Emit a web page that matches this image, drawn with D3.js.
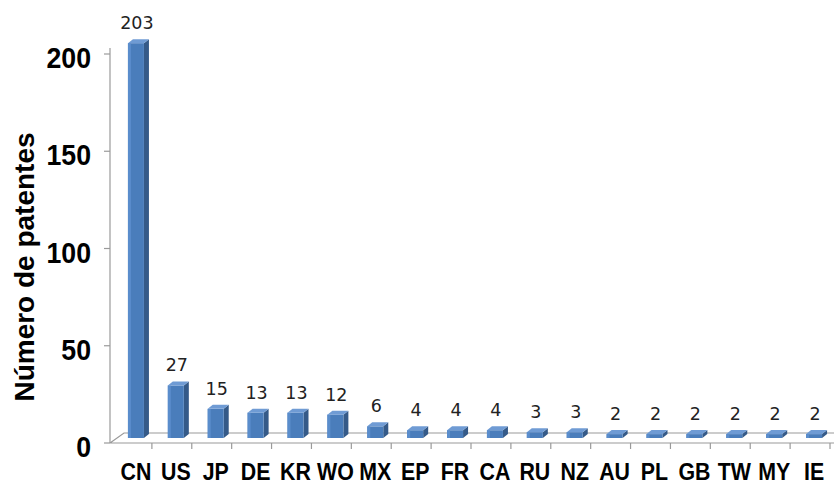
<!DOCTYPE html>
<html>
<head>
<meta charset="utf-8">
<script src="https://cdn.jsdelivr.net/npm/d3@7"></script>
<style>
    html, body { margin:0; padding:0; background:#fff; }
    svg { display:block; }
    .bold { font-family:'Liberation Sans', Arial, sans-serif; font-weight:bold; fill:#000; }
    .val { font-family:'DejaVu Sans', sans-serif; font-size:17.5px; fill:#222; }
</style>
</head>
<body>
<svg id="chart" width="834" height="485"></svg>
<script>
(function(window) {
    'use strict';

    var countries = ['CN','US','JP','DE','KR','WO','MX','EP','FR','CA','RU','NZ','AU','PL','GB','TW','MY','IE'],
        patents = [203, 27, 15, 13, 13, 12, 6, 4, 4, 4, 3, 3, 2, 2, 2, 2, 2, 2],
        yTicks = [0, 50, 100, 150, 200],
        yTitle = 'Número de patentes';

    var W = 834, H = 485,
        SQ = 0.89,          // horizontal squeeze of the source picture
        DX = 5, DY = 4,     // depth of the 3d bars
        BW = 16;            // front face width

    var svg = d3.select('#chart');

    var x = d3.scaleBand()
        .domain(countries)
        .range([116, 834]);

    // front of the floor (axis) and plane the bars stand on
    var yAxis = d3.scaleLinear().domain([0, 200]).range([443, 54]),
        yBar = d3.scaleLinear().domain([0, 200]).range([438, 49]);

    /******************************************************************
        floor and axes
     ******************************************************************/
    var grid = svg.append('g')
        .style('stroke', '#9a9a9a')
        .style('fill', 'none')
        .style('stroke-width', 1.2);

    grid.append('path')
        .attr('d', 'M110 443 L834 443 M110 443 L124 433 L834 433');

    grid.append('line')
        .attr('x1', 110).attr('x2', 110)
        .attr('y1', 48).attr('y2', 443);

    grid.selectAll('.ytick')
        .data(yTicks).enter()
            .append('line')
                .attr('x1', 104).attr('x2', 110)
                .attr('y1', function(d){ return yAxis(d); })
                .attr('y2', function(d){ return yAxis(d); });

    var xt = countries.map(function(d){ return x(d) - 4; });
    xt.push(x(countries[countries.length - 1]) + x.bandwidth() - 4);

    grid.selectAll('.xtick')
        .data(xt.slice(1)).enter()
            .append('line')
                .attr('x1', function(d){ return d; })
                .attr('x2', function(d){ return d; })
                .attr('y1', 443).attr('y2', 449);

    /******************************************************************
        bars
     ******************************************************************/
    var bars = svg.append('g').selectAll('.bar')
        .data(countries).enter()
            .append('g')
                .attr('class', 'bar');

    function x0(d) { return x(d) + x.bandwidth() / 2 - BW / 2; }
    function val(i) { return patents[i]; }

    // side
    bars.append('path')
        .style('fill', '#355a88')
        .attr('d', function(d, i) {
            var a = x0(d) + BW, t = yBar(val(i)), b = yBar(0);
            return 'M' + a + ' ' + t + ' L' + (a + DX) + ' ' + (t - DY) +
                ' L' + (a + DX) + ' ' + (b - DY) + ' L' + a + ' ' + b + ' Z';
        });

    // front
    bars.append('rect')
        .style('fill', '#4a7dbb')
        .attr('x', function(d){ return x0(d); })
        .attr('y', function(d, i){ return yBar(val(i)); })
        .attr('width', BW)
        .attr('height', function(d, i){ return yBar(0) - yBar(val(i)); });

    bars.append('rect')
        .style('fill', '#5a8dcc')
        .attr('x', function(d){ return x0(d); })
        .attr('y', function(d, i){ return yBar(val(i)); })
        .attr('width', 3)
        .attr('height', function(d, i){ return yBar(0) - yBar(val(i)); });

    // top
    bars.append('path')
        .style('fill', '#6f9bd4')
        .attr('d', function(d, i) {
            var a = x0(d), t = yBar(val(i));
            return 'M' + a + ' ' + t + ' L' + (a + DX) + ' ' + (t - DY) +
                ' L' + (a + BW + DX) + ' ' + (t - DY) + ' L' + (a + BW) + ' ' + t + ' Z';
        });

    // value labels
    bars.append('text')
        .attr('class', 'val')
        .attr('text-anchor', 'middle')
        .attr('x', function(d){ return x(d) + x.bandwidth() / 2 + 1; })
        .attr('y', function(d, i){ return yBar(val(i)) - 14; })
        .text(function(d, i){ return val(i); });

    /******************************************************************
        labels
     ******************************************************************/
    svg.append('g').selectAll('text')
        .data(countries).enter()
            .append('text')
                .attr('class', 'bold')
                .attr('text-anchor', 'middle')
                .style('font-size', '24px')
                .attr('transform', function(d) {
                    return 'translate(' + [x(d) + x.bandwidth() / 2, 480] + ') scale(' + SQ + ',1)';
                })
                .text(function(d){ return d; });

    svg.append('g').selectAll('text')
        .data(yTicks).enter()
            .append('text')
                .attr('class', 'bold')
                .attr('text-anchor', 'end')
                .style('font-size', '30px')
                .attr('transform', function(d) {
                    return 'translate(' + [91, yAxis(d) + 14] + ') scale(' + SQ + ',1)';
                })
                .text(function(d){ return d; });

    svg.append('text')
        .attr('class', 'bold')
        .attr('text-anchor', 'middle')
        .style('font-size', '28px')
        .attr('transform', 'translate(34,267) rotate(-90)')
        .text(yTitle);

})(window);
</script>
</body>
</html>
